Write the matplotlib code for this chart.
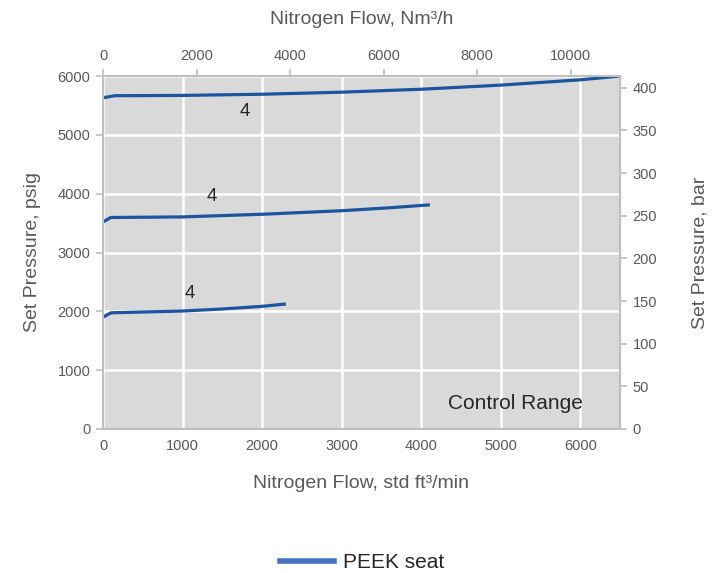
import matplotlib.pyplot as plt
from matplotlib.lines import Line2D

plt.rcParams["font.family"] = ["Liberation Sans", "DejaVu Sans"]

# curve data: flow in std ft3/min, set pressure in psig
flow_hi = [0, 150, 1000, 2000, 3000, 4000, 5000, 6000, 6500]
psig_hi = [5630, 5665, 5670, 5690, 5725, 5775, 5845, 5935, 6000]

flow_mid = [0, 100, 1000, 2000, 3000, 3600, 4110]
psig_mid = [3520, 3595, 3605, 3650, 3710, 3760, 3810]

flow_lo = [0, 100, 1000, 1500, 2000, 2300]
psig_lo = [1900, 1975, 2005, 2040, 2085, 2125]

# "4" labels
lab_x = [1786, 1371, 1094]
lab_y = [5390, 3960, 2310]

scfm_to_nm3h = 1.7
psi_per_bar = 14.5038

grey = "#595959"
spine = "#bfbfbf"
blue = "#1b55a0"

fig = plt.figure(figsize=(7.16, 5.73), dpi=100)
ax = fig.add_axes([103 / 716, 1 - 429 / 573, 517 / 716, 353 / 573])
ax.set_facecolor("#d9d9d9")

ax.plot(flow_hi, psig_hi, color=blue, lw=2.3, solid_capstyle="butt")
ax.plot(flow_mid, psig_mid, color=blue, lw=2.3, solid_capstyle="butt")
ax.plot(flow_lo, psig_lo, color=blue, lw=2.3, solid_capstyle="butt")

for x, y in zip(lab_x, lab_y):
    ax.text(x, y, "4", fontsize=13.5, color="#262626", ha="center", va="center")

ax.text(5182, 430, "Control Range", fontsize=15, color="#262626",
        ha="center", va="center")

ax.set_xlim(0, 6500)
ax.set_ylim(0, 6000)
ax.set_xticks(range(0, 6001, 1000))
ax.set_yticks(range(0, 6001, 1000))
ax.grid(True, color="white", lw=1.8)
ax.set_axisbelow(True)

for s in ax.spines.values():
    s.set_color(spine)
    s.set_linewidth(1.5)

ax.tick_params(axis="x", length=0, labelsize=10.5, labelcolor=grey, pad=7)
ax.tick_params(axis="y", length=5, width=1.2, color=spine, labelsize=10.5,
               labelcolor=grey, pad=4)

ax.set_xlabel("Nitrogen Flow, std ft³/min", fontsize=14, color=grey, labelpad=16)
ax.set_ylabel("Set Pressure, psig", fontsize=14, color=grey, labelpad=12)

top = ax.secondary_xaxis("top", functions=(lambda v: v * scfm_to_nm3h,
                                           lambda v: v / scfm_to_nm3h))
top.set_xticks(range(0, 10001, 2000))
top.tick_params(length=5, width=1.2, color=spine, labelsize=10.5,
                labelcolor=grey, pad=4)
top.spines["top"].set_color(spine)
top.set_xlabel("Nitrogen Flow, Nm³/h", fontsize=14, color=grey, labelpad=18)

right = ax.secondary_yaxis("right", functions=(lambda v: v / psi_per_bar,
                                               lambda v: v * psi_per_bar))
right.set_yticks(range(0, 401, 50))
right.tick_params(length=5, width=1.2, color=spine, labelsize=10.5,
                  labelcolor=grey, pad=4)
right.spines["right"].set_color(spine)
right.set_ylabel("Set Pressure, bar", fontsize=14, color=grey, labelpad=25)

handle = Line2D([], [], color="#4472c4", lw=4)
fig.legend([handle], ["PEEK seat"], loc="center",
           bbox_to_anchor=(362 / 716, 1 - 563 / 573), frameon=False,
           fontsize=15, handlelength=2.6, handletextpad=0.45,
           labelcolor="#262626")

fig.savefig("out.png", dpi=100)
